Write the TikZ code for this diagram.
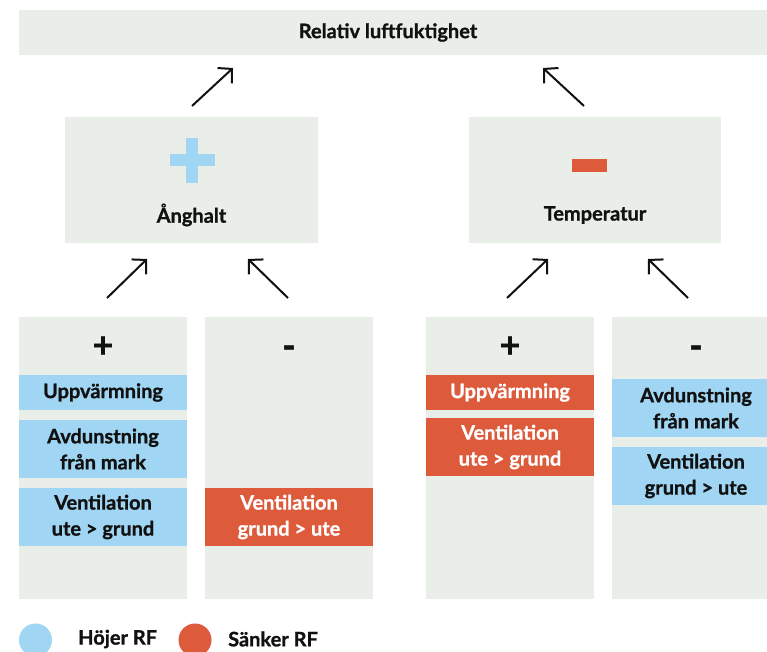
\documentclass[tikz,border=0pt]{standalone}
\usepackage{fontspec}
\setmainfont{Lato}[BoldFeatures={FakeBold=1}]
\usetikzlibrary{arrows.meta}
\definecolor{panel}{HTML}{E9EEE8}
\definecolor{rfblue}{HTML}{A0D6F3}
\definecolor{rforange}{HTML}{DD5A3B}
\definecolor{ink}{HTML}{111111}
\begin{document}
\begin{tikzpicture}[x=1pt,y=-1pt,
  panelbox/.style={fill=panel, draw=none, inner sep=0pt},
  colbox/.style={panelbox, minimum width=168pt, minimum height=282pt},
  item/.style={draw=none, inner sep=0pt, minimum width=168pt, align=center,
     font=\bfseries\fontsize{20}{26}\selectfont},
  upitem/.style={item, fill=rfblue, text=ink},
  downitem/.style={item, fill=rforange, text=white},
  label/.style={font=\bfseries\fontsize{20}{26}\selectfont, text=ink, inner sep=0pt},
  sign/.style={font=\bfseries\fontsize{36}{36}\selectfont, text=ink, inner sep=0pt},
  flow/.style={draw=ink, line width=2pt, -{Straight Barb[length=10pt,width=21pt]}}
]
\clip (0,0) rectangle (767,652);
\fill[white] (0,0) rectangle (767,652);

% top
\node[panelbox, minimum width=761pt, minimum height=45pt] (rf) at (399.5,32.5) {};
\node[label] (rft) at (388,32.5) {Relativ luftfuktighet};

% middle boxes
\node[panelbox, minimum width=253pt, minimum height=126pt] (ang) at (191.5,180) {};
\fill[rfblue] (169.5,154.5) rectangle (214.5,166.5);
\fill[rfblue] (186,138) rectangle (198,183);
\node[label] (angt) at (191.5,215) {Ånghalt};

\node[panelbox, minimum width=252pt, minimum height=126pt] (temp) at (595,180) {};
\fill[rforange] (572,159) rectangle (607,172);
\node[label] (tempt) at (595,215) {Temperatur};

% columns
\node[colbox] (c1) at (103,458) {};
\node[colbox] (c2) at (289,458) {};
\node[colbox] (c3) at (510,458) {};
\node[colbox] (c4) at (696,458) {};

\node[sign] (s1) at (103,347) {+};
\node[sign] (s2) at (289,352) {-};
\node[sign] (s3) at (510,347) {+};
\node[sign] (s4) at (696,352) {-};

\node[upitem, minimum height=35pt] (c1a) at (103,392.5) {Uppvärmning};
\node[upitem, minimum height=58pt] (c1b) at (103,449) {Avdunstning\\från mark};
\node[upitem, minimum height=58pt] (c1c) at (103,517) {Ventilation\\ute > grund};

\node[downitem, minimum height=58pt] (c2a) at (289,517) {Ventilation\\grund > ute};

\node[downitem, minimum height=35pt] (c3a) at (510,392.5) {Uppvärmning};
\node[downitem, minimum height=58pt] (c3b) at (510,447) {Ventilation\\ute > grund};

\node[upitem, minimum height=58pt] (c4a) at (696,408) {Avdunstning\\från mark};
\node[upitem, minimum height=58pt] (c4b) at (696,476) {Ventilation\\grund > ute};

% arrows
\coordinate (a1s) at (192,106); \coordinate (a1e) at (233,68);
\coordinate (a2s) at (584,106); \coordinate (a2e) at (543,68);
\coordinate (a3s) at (107,298); \coordinate (a3e) at (147,259);
\coordinate (a4s) at (288,298); \coordinate (a4e) at (248,259);
\coordinate (a5s) at (507,298); \coordinate (a5e) at (548,259);
\coordinate (a6s) at (688,298); \coordinate (a6e) at (648,259);
\foreach \i in {1,...,6} \draw[flow] (a\i s) -- (a\i e);

% legend
\fill[rfblue] (35.5,640) circle[radius=16.5pt];
\node[label, anchor=west] (l1) at (78,639) {Höjer RF};
\fill[rforange] (195,640) circle[radius=16.5pt];
\node[label, anchor=west] (l2) at (228,639) {Sänker RF};
\end{tikzpicture}
\end{document}
